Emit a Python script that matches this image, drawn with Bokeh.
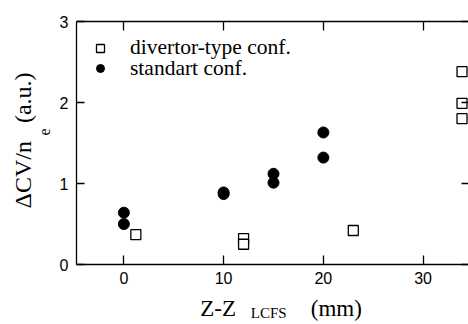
import numpy as np
from bokeh.plotting import figure
from bokeh.models import (LinearAxis, FixedTicker, Legend, LegendItem, Title,
                          ColumnDataSource)
from bokeh.embed import file_html
from bokeh.resources import INLINE

# ---- data ----
div_x = [1.2, 12, 12, 23, 33.9, 33.9, 33.9]
div_y = [0.37, 0.32, 0.25, 0.42, 2.38, 1.99, 1.80]
std_x = [0, 0, 10, 10, 15, 15, 20, 20]
std_y = [0.64, 0.50, 0.89, 0.87, 1.12, 1.01, 1.63, 1.32]

x_ticks = [0, 10, 20, 30]
y_ticks = [0, 1, 2, 3]
legend_labels = ["divertor-type conf.", "standart conf."]

SANS = "Liberation Sans"
SERIF = "Liberation Serif"
NB = "\u00a0"
ZW = "\u200b"

p = figure(width=468, height=324, x_range=(-4.75, 34.55), y_range=(0, 3),
           output_backend="svg", toolbar_location=None,
           min_border_left=76, min_border_right=0,
           min_border_top=21, min_border_bottom=60,
           background_fill_color="white", border_fill_color="white")
p.outline_line_color = None
p.grid.visible = False

def style_axis(ax, ticks, tick_in, show_labels, standoff=8, line=True):
    ax.ticker = FixedTicker(ticks=ticks)
    ax.major_tick_in = tick_in
    ax.major_tick_out = 0
    ax.minor_tick_in = 0
    ax.minor_tick_out = 0
    ax.major_tick_line_color = "black"
    ax.major_tick_line_width = 1.3
    ax.axis_line_color = "black" if line else None
    ax.axis_line_width = 1.3
    ax.major_label_standoff = standoff
    if show_labels:
        ax.major_label_text_font = SANS
        ax.major_label_text_font_size = "16px"
        ax.major_label_text_color = "black"
    else:
        ax.major_label_text_color = None
        ax.major_label_text_font_size = "1px"
        ax.major_label_standoff = 0

xa = p.xaxis[0]
ya = p.yaxis[0]
style_axis(xa, x_ticks, 9, True, standoff=7)
style_axis(ya, y_ticks, 8, True, standoff=8)

# subscript of the x title carried by the axis label
xa.axis_label = "LCFS" + NB * 2 + ZW
xa.axis_label_text_font = SERIF
xa.axis_label_text_font_size = "15px"
xa.axis_label_text_font_style = "normal"
xa.axis_label_text_color = "black"
xa.axis_label_standoff = 18

# main x title on a tick-less second bottom axis, pulled up over the first
xb = LinearAxis()
style_axis(xb, x_ticks, 0, False, line=False)
xb.major_tick_line_color = None
xb.axis_label = ZW + NB * 3 + "Z-Z" + NB * 13 + "(mm)"
xb.axis_label_text_font = SERIF
xb.axis_label_text_font_size = "23px"
xb.axis_label_text_font_style = "normal"
xb.axis_label_text_color = "black"
xb.axis_label_standoff = -28
p.add_layout(xb, "below")

top = LinearAxis()
style_axis(top, x_ticks, 9, False)
p.add_layout(top, "above")
right = LinearAxis()
style_axis(right, y_ticks, 7, False, line=False)
p.add_layout(right, "right")

# y title: subscript + main text as side titles
ye = Title(text="e", align="left", offset=129,
           vertical_align="top", standoff=9.3,
           text_font=SERIF, text_font_size="16px", text_font_style="normal",
           text_color="black")
p.add_layout(ye, "left")
yt = Title(text="ΔCV/n" + NB * 3 + "(a.u.)", align="left", offset=56,
           vertical_align="top", standoff=-8.2,
           text_font=SERIF, text_font_size="24px", text_font_style="normal",
           text_color="black")
p.add_layout(yt, "left")

src_div = ColumnDataSource(dict(x=div_x, y=div_y))
src_std = ColumnDataSource(dict(x=std_x, y=std_y))
r_div = p.scatter("x", "y", source=src_div, marker="square", size=10,
                  fill_color="white", line_color="black", line_width=1.3)
r_std = p.scatter("x", "y", source=src_std, marker="circle", size=11,
                  fill_color="black", line_color="black")

leg_kw = dict(padding=0, spacing=0, glyph_width=20, glyph_height=20,
              label_standoff=20, label_text_font=SERIF,
              label_text_font_size="21.5px", label_text_color="black",
              border_line_color=None, background_fill_alpha=0)
legend_a = Legend(items=[LegendItem(label=legend_labels[0], renderers=[r_div])],
                  location="top_left", margin=14, **leg_kw)
legend_b = Legend(items=[LegendItem(label=legend_labels[1], renderers=[r_std])],
                  location=(14, 183.5), margin=0, **leg_kw)
p.add_layout(legend_a)
p.add_layout(legend_b)

open("out.html", "w").write(file_html(p, INLINE))
